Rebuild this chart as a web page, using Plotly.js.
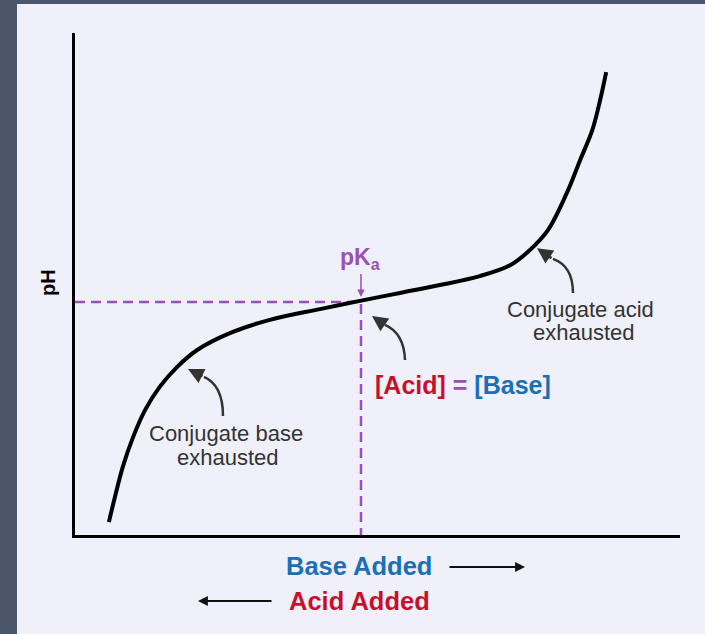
<!DOCTYPE html>
<html>
<head>
<meta charset="utf-8">
<script src="https://cdn.plot.ly/plotly-3.0.1.min.js"></script>
<style>html,body{margin:0;padding:0;background:#4b566b;}#chart{width:705px;height:634px;}</style>
</head>
<body>
<div id="chart"></div>
<script>
// Titration curve: base added (arbitrary units) vs pH
const baseAdded = [5.6, 6.6, 7.9, 9.6, 11.6, 14.0, 16.9, 20.2, 25.6, 32.2, 40.5, 47.1, 53.7, 60.3, 66.9, 71.9, 75.2, 78.2, 81.3, 83.5, 85.5, 86.8, 87.8];
const pH = [0.36, 1.06, 1.90, 2.73, 3.49, 4.13, 4.69, 5.16, 5.63, 6.00, 6.30, 6.53, 6.75, 6.97, 7.22, 7.52, 7.95, 8.51, 9.54, 10.46, 11.29, 12.13, 12.91];
// Half-equivalence point
const pKaX = 47.27;
const pKaPH = 6.50;
// Labels
const labels = {
  yTitle: 'pH',
  pKa: 'pK<sub>a</sub>',
  baseExhausted: ['Conjugate base', 'exhausted'],
  acidExhausted: ['Conjugate acid', 'exhausted'],
  baseAdded: 'Base Added',
  acidAdded: 'Acid Added'
};

const purple = '#9b51b4';
const red = '#c8102e';
const blue = '#1a6fb5';
const grey = '#333333';
const font = 'Liberation Sans, Arial, sans-serif';

const traces = [
  {x: [0, pKaX, pKaX], y: [pKaPH, pKaPH, 0], mode: 'lines',
   line: {color: purple, width: 2.5, dash: '10px,6px'}, hoverinfo: 'skip'},
  {x: baseAdded, y: pH, mode: 'lines',
   line: {color: '#000', width: 4, shape: 'spline', smoothing: 1}, hoverinfo: 'skip'}
];

function curved(x0, y0, cx, cy, x1, y1) {
  return {type: 'path', xref: 'x', yref: 'y',
    path: `M ${x0},${y0} Q ${cx},${cy} ${x1},${y1}`,
    line: {color: grey, width: 2.5}};
}
function head(x, y, ax, ay) {
  return {x: x, y: y, xref: 'x', yref: 'y', text: '', showarrow: true,
    ax: ax, ay: ay, arrowhead: 2, arrowsize: 1.25, arrowwidth: 2.5, arrowcolor: grey};
}
function txt(x, y, t, size, color, bold) {
  return {x: x, y: y, xref: 'x', yref: 'y', text: bold ? '<b>' + t + '</b>' : t, showarrow: false,
    xanchor: 'center', yanchor: 'middle',
    font: {family: font, size: size, color: color}};
}

const annotations = [
  // pKa label with arrow
  {x: pKaX, y: 6.637, xref: 'x', yref: 'y', text: '<b>' + labels.pKa + '</b>', showarrow: true,
   ax: 0, ay: -39, arrowhead: 2, arrowsize: 1, arrowwidth: 1.5, arrowcolor: purple,
   font: {family: font, size: 23, color: purple}},
  // y title
  {x: (48 - 75) / 605, y: (535 - 283) / 502, xref: 'paper', yref: 'paper', text: '<b>' + labels.yTitle + '</b>', showarrow: false,
   xanchor: 'center', yanchor: 'middle',
   textangle: -90, font: {family: font, size: 20, color: '#000'}},
  // [Acid] = [Base]
  {x: 64.05, y: 4.18, xref: 'x', yref: 'y', showarrow: false, xanchor: 'center', yanchor: 'middle',
   text: `<b><span style="color:${red}">[Acid]</span> <span style="color:${purple}">=</span> <span style="color:${blue}">[Base]</span></b>`,
   font: {family: font, size: 25, color: purple}},
  txt(25.0, 2.82, labels.baseExhausted[0], 22, grey, false),
  txt(25.3, 2.16, labels.baseExhausted[1], 22, grey, false),
  txt(83.5, 6.30, labels.acidExhausted[0], 22, grey, false),
  txt(84.2, 5.66, labels.acidExhausted[1], 22, grey, false),
  head(18.68, 4.63, 16, 8),
  head(76.36, 8.00, 16, 11),
  head(49.09, 6.11, 13, 9),
  // bottom labels
  {x: (359 - 75) / 605, y: (535 - 566) / 502, xref: 'paper', yref: 'paper', text: '<b>' + labels.baseAdded + '</b>',
   showarrow: false, xanchor: 'center', yanchor: 'middle', font: {family: font, size: 25.5, color: blue}},
  {x: (359 - 75) / 605, y: (535 - 601) / 502, xref: 'paper', yref: 'paper', text: '<b>' + labels.acidAdded + '</b>',
   showarrow: false, xanchor: 'center', yanchor: 'middle', font: {family: font, size: 25.5, color: red}},
  {x: (525 - 75) / 605, y: (535 - 567) / 502, xref: 'paper', yref: 'paper', text: '', showarrow: true,
   ax: -77, ay: 0, arrowhead: 2, arrowsize: 1.1, arrowwidth: 1.8, arrowcolor: '#111'},
  {x: (198 - 75) / 605, y: (535 - 601) / 502, xref: 'paper', yref: 'paper', text: '', showarrow: true,
   ax: 75, ay: 0, arrowhead: 2, arrowsize: 1.1, arrowwidth: 1.8, arrowcolor: '#111'}
];

const shapes = [
  {type: 'rect', xref: 'paper', yref: 'paper', x0: (17 - 75) / 605, x1: (710 - 75) / 605,
   y0: (535 - 640) / 502, y1: (535 - 4) / 502, fillcolor: '#eff0f9', line: {width: 0}, layer: 'below'},
  curved(24.46, 3.32, 24.46, 4.18, 21.32, 4.41),
  curved(82.31, 6.75, 82.31, 7.50, 79.01, 7.70),
  curved(54.55, 4.88, 54.38, 5.63, 51.24, 5.86)
];

const axisCommon = {showline: true, linewidth: 3, linecolor: '#000', showgrid: false, zeroline: false,
  showticklabels: false, ticks: '', fixedrange: true};

const layout = {
  width: 705, height: 634,
  margin: {l: 75, r: 25, t: 33, b: 99},
  paper_bgcolor: '#4b566b',
  plot_bgcolor: 'rgba(0,0,0,0)',
  showlegend: false,
  xaxis: Object.assign({range: [0, 100]}, axisCommon),
  yaxis: Object.assign({range: [0, 14]}, axisCommon),
  annotations: annotations,
  shapes: shapes
};

Plotly.newPlot('chart', traces, layout, {displayModeBar: false, staticPlot: true});
</script>
</body>
</html>
